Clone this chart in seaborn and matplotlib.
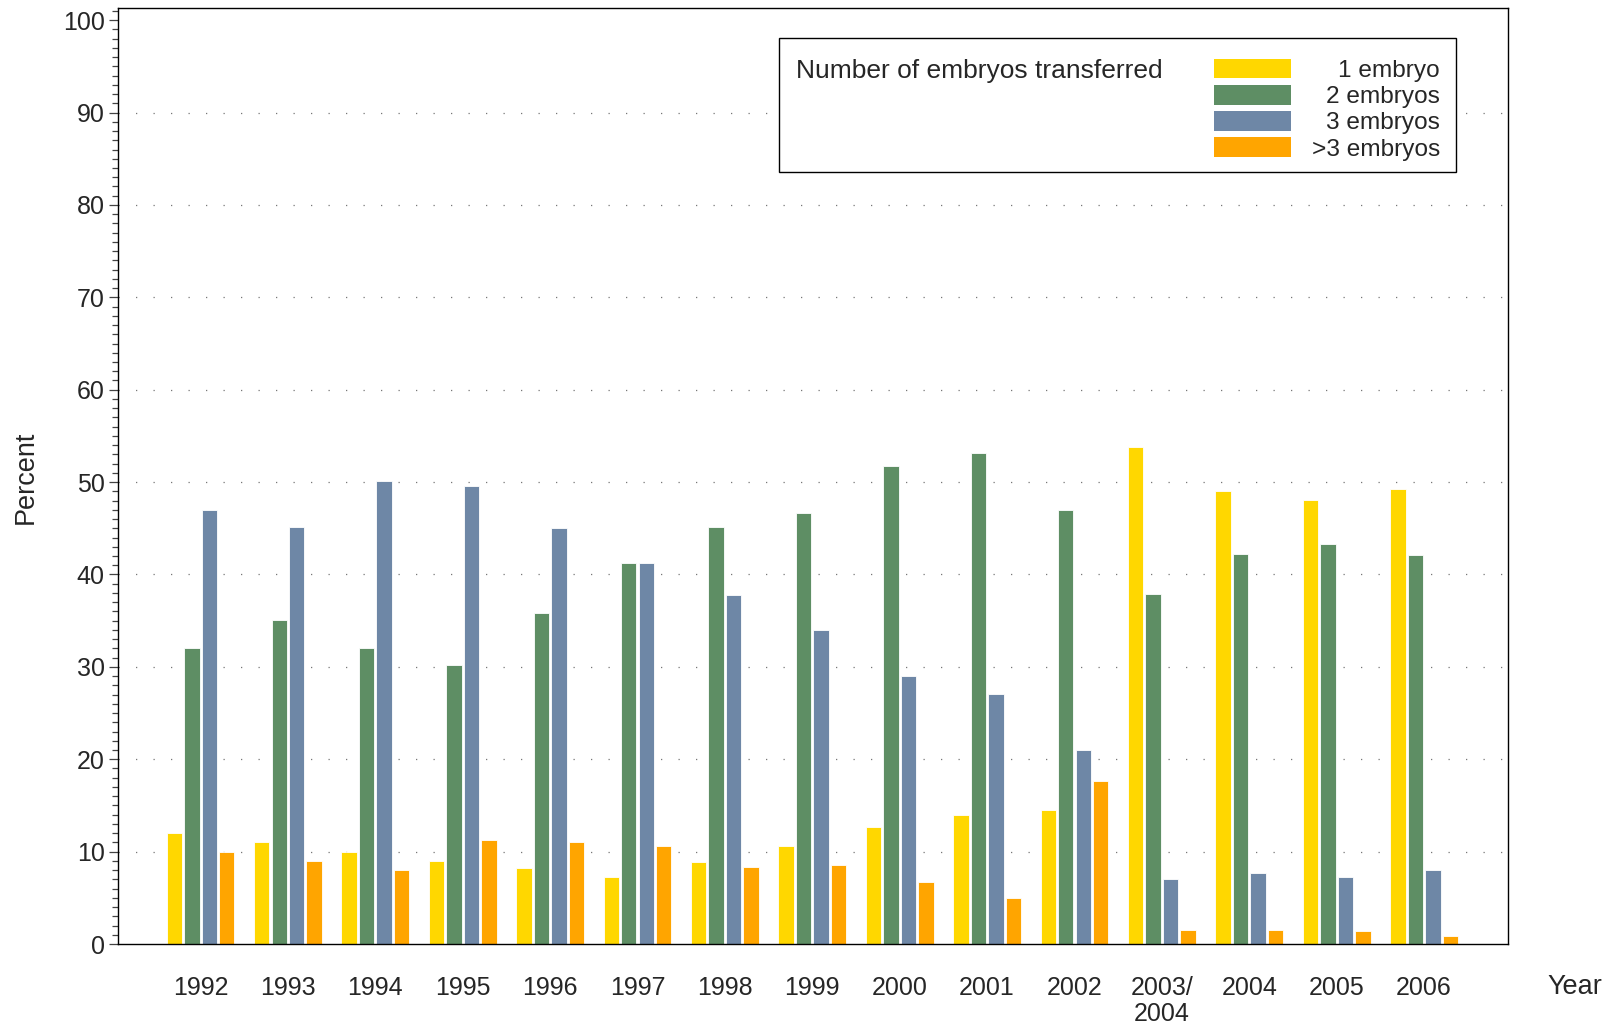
import matplotlib
matplotlib.use('Agg')
import matplotlib.pyplot as plt
import seaborn as sns
import pandas as pd
from matplotlib.patches import Patch, Rectangle
from matplotlib.ticker import MultipleLocator

years = ['1992', '1993', '1994', '1995', '1996', '1997', '1998', '1999', '2000',
         '2001', '2002', '2003/\n2004', '2004', '2005', '2006']
categories = ['1 embryo', '2 embryos', '3 embryos', '>3 embryos']
one_embryo = [12.0, 11.0, 10.0, 9.0, 8.2, 7.3, 8.9, 10.6, 12.7, 14.0, 14.5, 53.8, 49.0, 48.1, 49.3]
two_embryos = [32.0, 35.1, 32.0, 30.2, 35.8, 41.2, 45.1, 46.7, 51.7, 53.1, 47.0, 37.9, 42.2, 43.3, 42.1]
three_embryos = [47.0, 45.1, 50.1, 49.6, 45.0, 41.2, 37.8, 34.0, 29.0, 27.1, 21.0, 7.0, 7.7, 7.2, 8.0]
more_embryos = [10.0, 9.0, 8.0, 11.3, 11.0, 10.6, 8.3, 8.6, 6.7, 5.0, 17.6, 1.5, 1.5, 1.4, 0.9]
colors = ['#FFD700', '#5E8E64', '#6E87A6', '#FFA500']
legend_title = 'Number of embryos transferred'

series = [one_embryo, two_embryos, three_embryos, more_embryos]
rows = []
for cat, vals in zip(categories, series):
    for y, v in zip(years, vals):
        rows.append({'Year': y, 'Percent': v, 'Embryos': cat})
df = pd.DataFrame(rows)

sns.set_style('ticks')
plt.rcParams['font.family'] = ['Liberation Sans', 'DejaVu Sans']
FS = 18
LFS = 17.6

fig = plt.figure(figsize=(16.14, 10.26), dpi=100)
ax = fig.add_axes([118.4 / 1614, 1 - 944 / 1026, (1508 - 118.4) / 1614, (944 - 8.2) / 1026])

sns.barplot(data=df, x='Year', y='Percent', hue='Embryos', order=years,
            hue_order=categories, palette=colors, saturation=1, width=0.8, gap=0.12,
            edgecolor='white', linewidth=0.6, legend=False, ax=ax, zorder=2)

ax.set_xlim(-0.94, 14.96)
ax.set_ylim(0, 101.3)
ax.yaxis.set_major_locator(MultipleLocator(10))
ax.yaxis.set_minor_locator(MultipleLocator(1))
ax.tick_params(axis='y', which='major', length=6.5, width=0.9, color='#444444',
               labelsize=FS, pad=3.5)
ax.tick_params(axis='y', which='minor', length=4.2, width=0.9, color='#444444')
ax.tick_params(axis='x', length=0, labelsize=FS, pad=23)
for lbl in ax.get_xticklabels():
    lbl.set_linespacing(1.1)

ax.set_axisbelow(True)
ax.yaxis.grid(True, which='major', color='#777777', linewidth=0.9,
              linestyle=(0, (1, 13)))
ax.xaxis.grid(False)
for gl, t in zip(ax.get_ygridlines(), ax.get_yticks()):
    if t >= 100 or t <= 0:
        gl.set_visible(False)

for s in ax.spines.values():
    s.set_visible(True)
    s.set_color('black')
    s.set_linewidth(1.0)

ax.set_xlabel('')
ax.set_ylabel('')
fig.text(25.7 / 1614, 1 - 477 / 1026, 'Percent', rotation=90, ha='center',
         va='center', fontsize=19.5)
fig.text(1575 / 1614, 1 - 987 / 1026, 'Year', ha='center', va='center', fontsize=19.5)

# legend frame and title
ax.add_patch(Rectangle((0.4754, 0.825), 0.9626 - 0.4754, 0.968 - 0.825,
                       transform=ax.transAxes, facecolor='white', edgecolor='black',
                       linewidth=1.0, zorder=5))
ax.text(0.4874, 0.933, legend_title, transform=ax.transAxes, ha='left',
        va='center', fontsize=19.0, zorder=6)

handles = [Patch(facecolor=c, edgecolor='none') for c in colors]
leg = ax.legend(handles, categories, loc='upper right',
                bbox_to_anchor=((1440 - 118.4) / 1389.6, (944 - 59) / 935.8),
                frameon=False, fontsize=LFS, handlelength=3.15, handleheight=0.85,
                labelspacing=0.12, handletextpad=0.85, borderpad=0, borderaxespad=0)
leg.set_zorder(7)

fig.canvas.draw()
r = fig.canvas.get_renderer()
texts = leg.get_texts()
ws = [t.get_window_extent(r).width for t in texts]
m = max(ws)
for t, w in zip(texts, ws):
    t.set_x(m - w)

fig.savefig('out.png', dpi=100)
